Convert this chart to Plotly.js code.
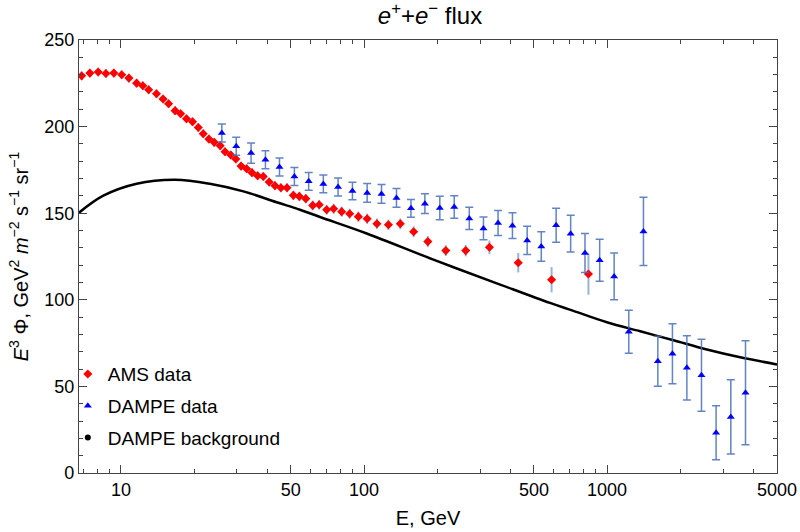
<!DOCTYPE html>
<html>
<head>
<meta charset="utf-8">
<script src="https://cdn.plot.ly/plotly-3.0.1.min.js"></script>
<style>html,body{margin:0;padding:0;background:#fff;}#chart{width:800px;height:532px;}</style>
</head>
<body>
<div id="chart"></div>
<script>
// AMS data
const amsE = [6.89,7.45,8.06,8.67,9.35,10.07,10.78,11.6,12.3,13.0,14.0,14.9,15.7,16.7,17.6,18.6,19.7,20.8,21.8,23.0,24.2,25.6,26.8,28.3,29.7,31.2,32.9,34.6,36.5,38.5,40.7,43.0,45.5,48.2,51.2,54.2,57.6,61.5,65.4,70.2,75.0,80.9,87.3,94.8,103,113,126,141,160,183,217,262,328,431,591,838];
const amsFlux = [229.3,230.9,231.5,230.7,230.9,229.9,228.0,225.1,223.6,221.3,219.0,215.9,213.2,209.2,207.4,204.5,202.8,199.5,195.9,192.8,190.9,189.0,185.5,183.6,181.3,177.2,175.7,173.4,171.6,171.2,168.0,165.9,164.7,164.7,160.3,159.7,158.4,154.5,154.9,152.0,152.6,150.9,149.7,148.0,146.8,143.9,143.3,143.9,139.3,133.6,128.4,128.4,130.3,121.4,111.6,114.9];
const amsErr = [2.5,2.5,2.5,2.5,2.5,2.5,2.5,2.5,2.5,2.5,2.5,2.5,2.5,2.5,2.5,2.5,2.5,2.5,2.5,2.5,2.5,2.5,2.5,2.5,2.5,2.5,2.5,2.5,2.5,2.5,2.6,2.6,2.6,2.6,2.7,2.7,2.7,2.8,2.8,2.8,2.9,2.9,2.9,3.0,3.0,3.0,3.0,3.1,3.1,3.2,3.1,3.3,3.9,5.6,7.3,12.0];

// DAMPE data
const dampeE = [26.0,29.8,34.3,39.3,44.9,51.7,59.2,68.0,78.2,89.6,103,118,136,156,178,205,235,271,310,356,408,469,536,617,708,811,932,1069,1228,1411,1617,1857,2129,2445,2808,3228,3710];
const dampeFlux = [196.3,188.6,184.7,180.9,176.7,171.2,168.4,166.9,165.1,162.8,161.7,161.1,158.8,152.8,155.5,153.0,153.6,147.0,141.2,144.3,142.8,134.3,130.8,143.0,138.2,127.0,122.8,113.5,81.6,139.5,64.5,68.8,60.7,56.4,23.2,32.4,46.3];
const dampeErr = [5.2,5.2,5.8,5.2,5.2,5.2,5.1,5.1,5.2,5.0,5.4,5.4,5.4,5.1,5.7,6.8,6.5,6.4,6.6,7.2,7.4,8.1,8.5,9.8,10.6,11.3,12.1,13.5,12.4,19.7,14.4,17.3,18.5,20.8,15.6,21.4,30.0];

// DAMPE background curve
const bgE = [6.72,8.46,11.6,16.7,23.2,31.9,43.7,54.5,65.9,102.6,193,363,582,727,998,1369,1877,2573,3525,5000];
const bgFlux = [150.3,160.1,167.0,169.3,167.0,162.6,156.3,152.0,147.8,138.3,123.2,108.8,98.2,93.6,87.0,81.8,76.6,71.3,66.8,62.7];

// Ticks
const xMajor = [10,50,100,500,1000,5000];
const xMajorText = ['10','50','100','500','1000','5000'];
const xMinor = [7,8,9,20,30,40,60,70,80,90,200,300,400,600,700,800,900,2000,3000,4000];

const FONT = 'Liberation Sans, Arial, sans-serif';

const traces = [
  {x: bgE, y: bgFlux, mode: 'lines', line: {color: '#000', width: 2.5, shape: 'spline', smoothing: 1}, showlegend: false, hoverinfo: 'skip'},
  {x: amsE, y: amsFlux, mode: 'markers', name: 'AMS data', legendgroup: 'a',
   marker: {symbol: 'diamond', size: 7, color: '#ff0000'},
   error_y: {type: 'data', array: amsErr, visible: true, color: 'rgba(110,145,205,0.7)', thickness: 2, width: 0}},
  {x: dampeE, y: dampeFlux, mode: 'markers', name: 'DAMPE data', legendgroup: 'b',
   marker: {symbol: 'triangle-up', size: 7, color: '#0000ff'},
   error_y: {type: 'data', array: dampeErr, visible: true, color: 'rgba(70,110,185,0.85)', thickness: 1.5, width: 4}},
  {x: [null], y: [null], mode: 'markers', name: 'DAMPE background', legendgroup: 'c', marker: {symbol: 'circle', size: 6, color: '#000'}}
];

const layout = {
  width: 800, height: 532,
  margin: {l: 79, r: 23, t: 40, b: 59},
  paper_bgcolor: '#fff', plot_bgcolor: '#fff',
  font: {family: FONT, size: 18, color: '#000'},
  title: {text: '<i>e</i><sup>+</sup>+<i>e</i><sup>−</sup> flux', font: {family: FONT, size: 24, color: '#000'}, x: 0.5375, xanchor: 'center', y: 0.97, yanchor: 'middle'},
  showlegend: true,
  legend: {x: -0.016, xanchor: 'left', y: 0.272, yanchor: 'top', bgcolor: 'rgba(0,0,0,0)', font: {family: FONT, size: 19, color: '#000'}, tracegroupgap: 4},
  xaxis: {
    type: 'log', range: [Math.log10(6.72), Math.log10(5000)],
    tickmode: 'array', tickvals: xMajor, ticktext: xMajorText,
    ticks: 'inside', ticklen: 8, tickwidth: 1, tickcolor: '#444',
    showline: true, linecolor: '#444', linewidth: 1.2, mirror: 'allticks',
    showgrid: false, zeroline: false,
    minor: {tickmode: 'array', tickvals: xMinor, ticks: 'inside', ticklen: 4, tickcolor: '#444', showgrid: false},
    tickfont: {family: FONT, size: 18, color: '#000'},
    title: {text: 'E, GeV', font: {family: FONT, size: 20, color: '#000'}, standoff: 12}
  },
  yaxis: {
    range: [0, 250], tickmode: 'linear', tick0: 0, dtick: 50,
    ticks: 'inside', ticklen: 8, tickwidth: 1, tickcolor: '#444',
    showline: true, linecolor: '#444', linewidth: 1.2, mirror: 'allticks',
    showgrid: false, zeroline: false,
    minor: {dtick: 10, ticks: 'inside', ticklen: 4, tickcolor: '#444', showgrid: false},
    tickfont: {family: FONT, size: 18, color: '#000'},
    title: {text: '<i>E</i><sup>3</sup> Φ, GeV<sup>2</sup> <i>m</i><sup>−2</sup> s<sup>−1</sup> sr<sup>−1</sup>', font: {family: FONT, size: 20, color: '#000'}, standoff: 10}
  }
};

Plotly.newPlot('chart', traces, layout, {displayModeBar: false, staticPlot: true});
</script>
</body>
</html>
